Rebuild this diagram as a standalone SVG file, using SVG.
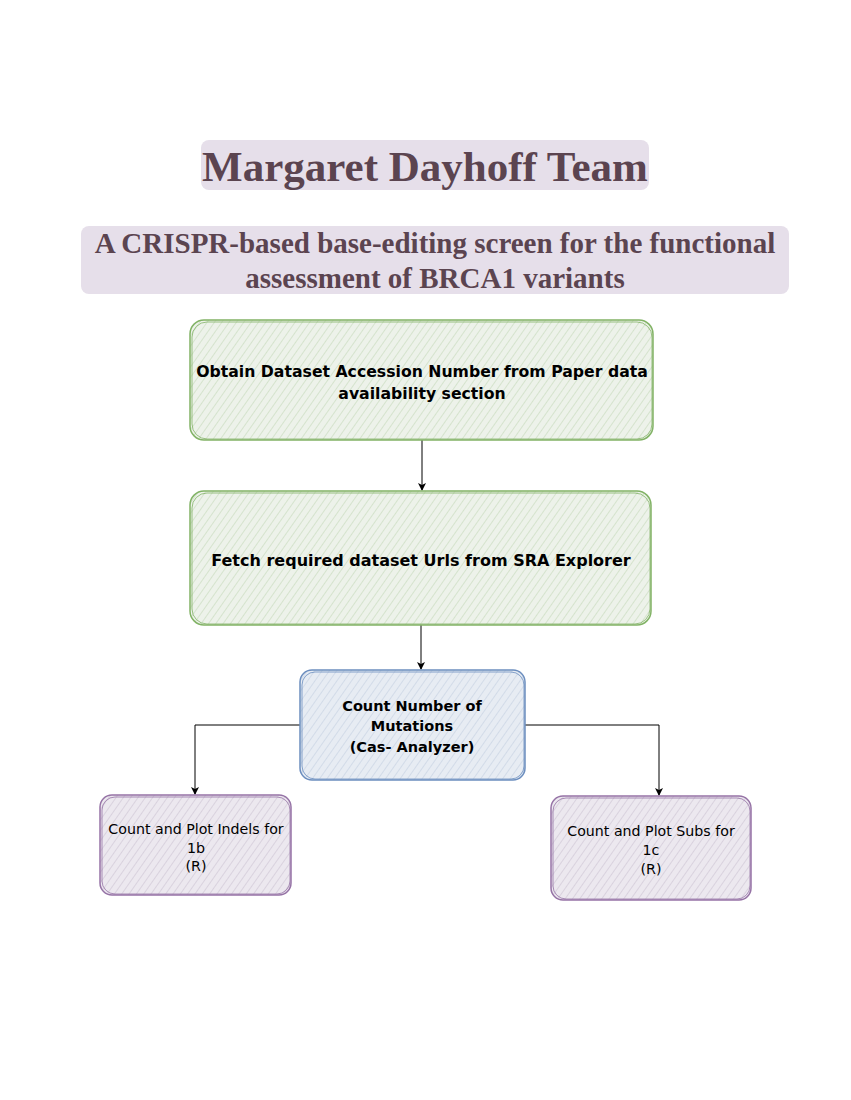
<svg xmlns="http://www.w3.org/2000/svg" width="851" height="1100" viewBox="0 0 851 1100">
<style>
.hdr{fill:#e6dfea;}
.ht{font-family:"Liberation Serif",serif;font-weight:bold;fill:#5b4450;text-anchor:middle;}
.nt{font-family:"DejaVu Sans",sans-serif;font-weight:bold;fill:#000;text-anchor:middle;}
.ntl{font-family:"DejaVu Sans",sans-serif;fill:#000;text-anchor:middle;}
.edge{fill:none;stroke:#000;stroke-width:1;}
.green{fill:url(#hg);stroke:#82b366;stroke-width:1.5;}
.blue{fill:url(#hb);stroke:#6c8ebf;stroke-width:1.5;}
.purple{fill:url(#hp);stroke:#9673a6;stroke-width:1.5;}
.sk{fill:none;stroke-width:1;opacity:0.8;}
</style>
<defs>
<pattern id="hg" width="6" height="6" patternUnits="userSpaceOnUse" patternTransform="rotate(35)">
<rect width="6" height="6" fill="#edf2ea"/><line x1="0" y1="0" x2="0" y2="6" stroke="#d5e3cd" stroke-width="2"/>
</pattern>
<pattern id="hb" width="6" height="6" patternUnits="userSpaceOnUse" patternTransform="rotate(35)">
<rect width="6" height="6" fill="#e7ecf3"/><line x1="0" y1="0" x2="0" y2="6" stroke="#d2dbe8" stroke-width="2"/>
</pattern>
<pattern id="hp" width="6" height="6" patternUnits="userSpaceOnUse" patternTransform="rotate(35)">
<rect width="6" height="6" fill="#ece8ef"/><line x1="0" y1="0" x2="0" y2="6" stroke="#d9d2de" stroke-width="2"/>
</pattern>
<marker id="arr" markerWidth="10" markerHeight="10" refX="8" refY="5" orient="auto" markerUnits="userSpaceOnUse">
<path d="M1,1 L9,5 L1,9 L3,5 Z" fill="#000"/>
</marker>
</defs>
<rect width="851" height="1100" fill="#fff"/>

<g id="title">
<rect class="hdr" x="201" y="140" width="448" height="50" rx="8"/>
<text class="ht" x="425" y="181" font-size="43">Margaret Dayhoff Team</text>
</g>
<g id="subtitle">
<rect class="hdr" x="81" y="226" width="708" height="68" rx="8"/>
<text class="ht" x="435" y="253" font-size="29">A CRISPR-based base-editing screen for the functional</text>
<text class="ht" x="435" y="288" font-size="29">assessment of BRCA1 variants</text>
</g>

<g id="connectors">
<path class="edge" d="M422,440 L422,490" marker-end="url(#arr)"/>
<path class="edge" d="M421,625 L421,669" marker-end="url(#arr)"/>
<path class="edge" d="M300,725 L195,725 L195,794" marker-end="url(#arr)"/>
<path class="edge" d="M525,725 L659,725 L659,795" marker-end="url(#arr)"/>
</g>

<g id="node1">
<rect class="green" x="190" y="320" width="463" height="120" rx="14"/>
<rect class="sk" stroke="#82b366" x="192" y="322" width="460" height="117" rx="15"/>
<text class="nt" x="422" y="377" font-size="15.7">Obtain Dataset Accession Number from Paper data</text>
<text class="nt" x="422" y="399" font-size="15.7">availability section</text>
</g>
<g id="node2">
<rect class="green" x="190" y="491" width="461" height="134" rx="14"/>
<rect class="sk" stroke="#82b366" x="192" y="493" width="458" height="131" rx="15"/>
<text class="nt" x="421" y="566" font-size="16">Fetch required dataset Urls from SRA Explorer</text>
</g>
<g id="node3">
<rect class="blue" x="300" y="670" width="225" height="110" rx="12"/>
<rect class="sk" stroke="#6c8ebf" x="302" y="672" width="222" height="107" rx="13"/>
<text class="nt" x="412" y="711" font-size="14.5">Count Number of</text>
<text class="nt" x="412" y="731" font-size="14.5">Mutations</text>
<text class="nt" x="412" y="752" font-size="14.5">(Cas- Analyzer)</text>
</g>
<g id="node4">
<rect class="purple" x="100" y="795" width="191" height="100" rx="12"/>
<rect class="sk" stroke="#9673a6" x="102" y="797" width="188" height="97" rx="13"/>
<text class="ntl" x="196" y="834" font-size="14.2">Count and Plot Indels for</text>
<text class="ntl" x="196" y="853" font-size="14.2">1b</text>
<text class="ntl" x="196" y="871" font-size="14.2">(R)</text>
</g>
<g id="node5">
<rect class="purple" x="551" y="796" width="200" height="104" rx="12"/>
<rect class="sk" stroke="#9673a6" x="553" y="798" width="197" height="101" rx="13"/>
<text class="ntl" x="651" y="836" font-size="14.2">Count and Plot Subs for</text>
<text class="ntl" x="651" y="855" font-size="14.2">1c</text>
<text class="ntl" x="651" y="874" font-size="14.2">(R)</text>
</g>
</svg>
